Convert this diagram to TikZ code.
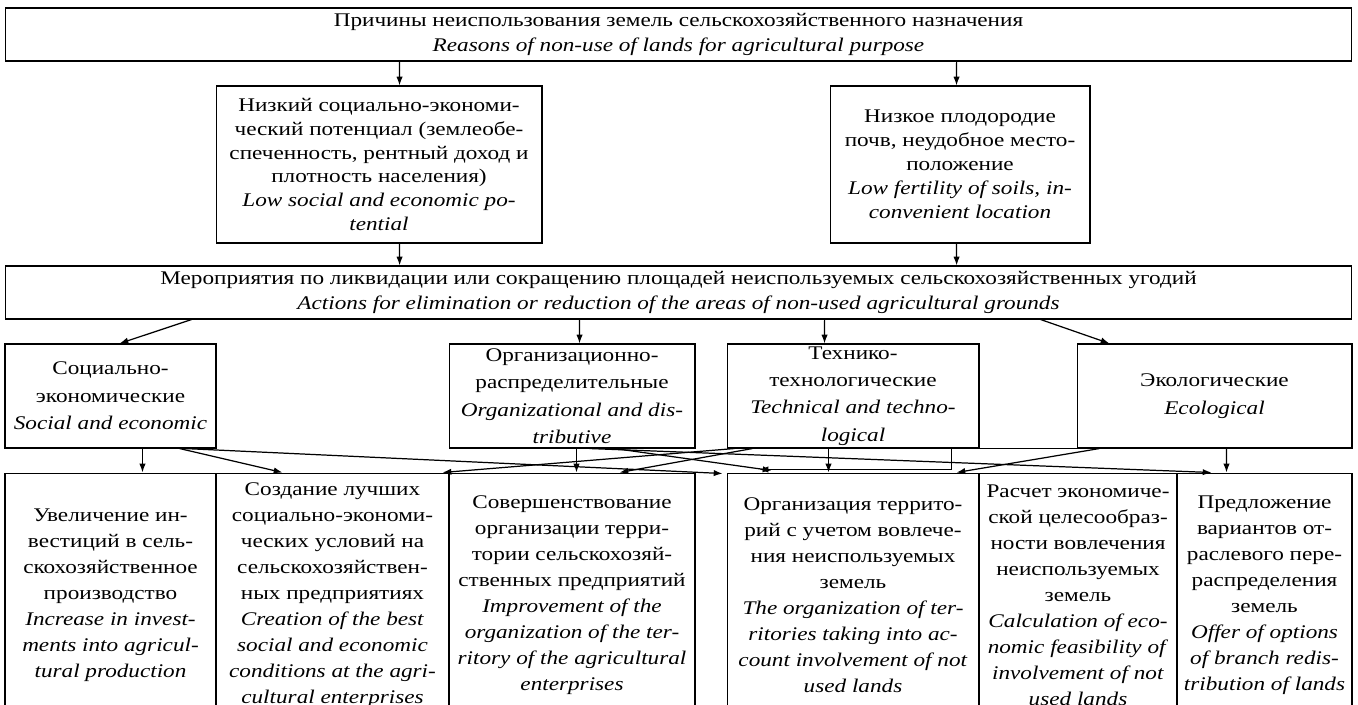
\documentclass[tikz,border=0pt]{standalone}
\usepackage{fontspec}
\setmainfont{Liberation Serif}[FakeStretch=1.2]
\usepackage{tikz}
\usetikzlibrary{arrows.meta,calc}
\tikzset{
  wide/.style={draw,line width=0.6pt,minimum width=26.94cm,minimum height=1.06cm,
    inner sep=0pt,align=center,font=\fontsize{11}{14}\selectfont},
  cause/.style={draw,line width=0.6pt,minimum height=3.14cm,inner sep=0pt,
    align=center,font=\fontsize{11}{13.6}\selectfont},
  group/.style={draw,line width=0.6pt,minimum height=2.08cm,inner sep=0pt,
    align=center,font=\fontsize{11}{15.6}\selectfont},
  task/.style={draw,line width=0.6pt,minimum height=4.88cm,inner sep=0pt,
    align=center,font=\fontsize{11}{14.8}\selectfont},
  link/.style={-{Latex[length=5pt,width=3.6pt]},line width=0.7pt},
}

\begin{document}
\begin{tikzpicture}[x=0.02cm,y=-0.02cm]
  \useasboundingbox (0,0) rectangle (1358,704);
  \node[wide] (rsn) at (678.5,34.5) {Причины неиспользования земель сельскохозяйственного назначения\\
    \textit{Reasons of non-use of lands for agricultural purpose}};
  \node[cause,minimum width=6.52cm] (lowsoc) at (379,164.5) {Низкий социально-экономи-\\
    ческий потенциал (землеобе-\\спеченность, рентный доход и\\плотность населения)\\
    \textit{Low social and economic po-}\\\textit{tential}};
  \node[cause,minimum width=5.2cm] (lowfert) at (960,164.5) {Низкое плодородие\\
    почв, неудобное место-\\положение\\\textit{Low fertility of soils, in-}\\
    \textit{convenient location}};
  \node[wide] (act) at (678.5,292.5) {Мероприятия по ликвидации или сокращению площадей неиспользуемых сельскохозяйственных угодий\\
    \textit{Actions for elimination or reduction of the areas of non-used agricultural grounds}};

  \node[group,minimum width=4.22cm] (soc) at (110.5,396) {Социально-\\экономические\\
    \textit{Social and economic}};
  \node[group,minimum width=4.92cm] (org) at (572,396) {Организационно-\\распределительные\\
    \textit{Organizational and dis-}\\\textit{tributive}};
  \node[group,minimum width=5.04cm] (tech) at (853,396) {Технико-\\технологические\\
    \textit{Technical and techno-}\\\textit{logical}};
  \node[group,minimum width=5.5cm] (eco) at (1214.5,396) {Экологические\\\textit{Ecological}};

  \node[task,minimum width=4.22cm] (t1) at (110.5,595) {Увеличение ин-\\вестиций в сель-\\
    скохозяйственное\\производство\\\textit{Increase in invest-}\\
    \textit{ments into agricul-}\\\textit{tural production}};
  \node[task,minimum width=4.66cm] (t2) at (332.5,595) {Создание лучших\\социально-экономи-\\
    ческих условий на\\сельскохозяйствен-\\ных предприятиях\\\textit{Creation of the best}\\
    \textit{social and economic}\\\textit{conditions at the agri-}\\\textit{cultural enterprises}};
  \node[task,minimum width=4.92cm] (t3) at (572,595) {Совершенствование\\организации терри-\\
    тории сельскохозяй-\\ственных предприятий\\\textit{Improvement of the}\\
    \textit{organization of the ter-}\\\textit{ritory of the agricultural}\\\textit{enterprises}};
  \node[task,minimum width=5.04cm] (t4) at (853,595) {Организация террито-\\рий с учетом вовлече-\\
    ния неиспользуемых\\земель\\\textit{The organization of ter-}\\
    \textit{ritories taking into ac-}\\\textit{count involvement of not}\\\textit{used lands}};
  \node[task,minimum width=3.96cm] (t5) at (1078,595) {Расчет экономиче-\\ской целесообраз-\\
    ности вовлечения\\неиспользуемых\\земель\\\textit{Calculation of eco-}\\
    \textit{nomic feasibility of}\\\textit{involvement of not}\\\textit{used lands}};
  \node[task,minimum width=3.5cm] (t6) at (1264.5,595) {Предложение\\вариантов от-\\
    раслевого пере-\\распределения\\земель\\\textit{Offer of options}\\
    \textit{of branch redis-}\\\textit{tribution of lands}};

  % causes
  \draw[link] ($(rsn.south west)+(395,0)$) -- ($(lowsoc.north west)+(184,0)$);
  \draw[link] ($(rsn.south west)+(952,0)$) -- ($(lowfert.north west)+(127,0)$);
  \draw[link] ($(lowsoc.south west)+(184,0)$) -- ($(act.north west)+(395,0)$);
  \draw[link] ($(lowfert.south west)+(127,0)$) -- ($(act.north west)+(952,0)$);
  % groups of actions
  \draw[link] ($(act.south west)+(187,0)$) -- ($(soc.north west)+(115,0)$);
  \draw[link] ($(act.south west)+(575,0)$) -- ($(org.north west)+(131,0)$);
  \draw[link] ($(act.south west)+(820,0)$) -- ($(tech.north west)+(98,0)$);
  \draw[link] ($(act.south west)+(1036,0)$) -- ($(eco.north west)+(33,0)$);
  % tasks
  \draw[link] ($(soc.south west)+(138,0)$) -- ($(t1.north west)+(138,0)$);
  \draw[link] ($(soc.south west)+(175,0)$) -- ($(t2.north west)+(67,0)$);
  \draw[link] ($(soc.south west)+(180,0)$) -- ($(t4.north west)+(-4,1)$);
  \draw[link] ($(org.south west)+(128,0)$) -- ($(t3.north west)+(128,0)$);
  \draw[link] ($(org.south west)+(166,0)$) -- ($(t4.north west)+(45,-2)$);
  \draw[link] ($(org.south west)+(141,0)$) -- ($(t6.north west)+(35,0)$);
  \draw[link] ($(tech.south west)+(8,0)$) -- ($(t2.north east)+(-7,0)$);
  \draw[link] ($(tech.south west)+(26,0)$) -- ($(t3.north west)+(171,0)$);
  \draw[link] ($(tech.south west)+(102,0)$) -- ($(t4.north west)+(102,0)$);
  \draw[link] ($(eco.south west)+(70,0)$) -| ($(t4.north west)+(225,-3)$) -- ($(t4.north west)+(33,-3)$);
  \draw[link] ($(eco.south west)+(23,0)$) -- ($(t4.north west)+(230,0)$);
  \draw[link] ($(eco.south west)+(150,0)$) -- ($(t6.north west)+(50,0)$);
\end{tikzpicture}
\end{document}
